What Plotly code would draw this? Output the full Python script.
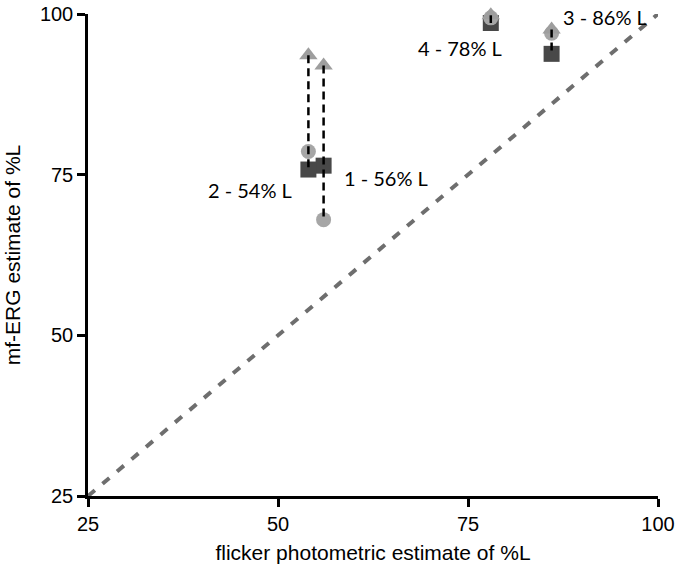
import plotly.graph_objects as go

subjects = ["1 - 56% L", "2 - 54% L", "3 - 86% L", "4 - 78% L"]
flicker = [56, 54, 86, 78]
tri_vals = [92.0, 93.6, 97.6, 99.8]
circ_vals = [68.0, 78.6, 97.0, 99.4]
sq_vals = [76.4, 75.8, 93.8, 98.6]
diag = [25, 100]
ticks = [25, 50, 75, 100]

fig = go.Figure()
fig.add_trace(go.Scatter(x=diag, y=diag, mode="lines",
                         line=dict(color="#6e6e6e", width=4, dash="9px,10px"),
                         hoverinfo="skip", cliponaxis=False))
fig.add_trace(go.Scatter(x=flicker, y=sq_vals, mode="markers",
                         marker=dict(symbol="square", size=16, color="#484848"), cliponaxis=False))
fig.add_trace(go.Scatter(x=flicker, y=circ_vals, mode="markers",
                         marker=dict(symbol="circle", size=15, color="#a6a6a6"), cliponaxis=False))
fig.add_trace(go.Scatter(x=flicker, y=tri_vals, mode="markers",
                         marker=dict(symbol="triangle-up", size=16, color="#9e9e9e"), cliponaxis=False))
for i in range(len(flicker)):
    ys = [tri_vals[i], circ_vals[i], sq_vals[i]]
    fig.add_trace(go.Scatter(x=[flicker[i], flicker[i]], y=[max(ys), min(ys)], mode="lines",
                             line=dict(color="black", width=2.5, dash="8px,5px"),
                             cliponaxis=False))

label_pos = {
    "1 - 56% L": (58.4, 74.5),
    "2 - 54% L": (40.5, 72.6),
    "3 - 86% L": (87.3, 99.5),
    "4 - 78% L": (68.1, 94.7),
}
for s in subjects:
    lx, ly = label_pos[s]
    fig.add_annotation(x=lx, y=ly, text=s, showarrow=False, xanchor="left", yanchor="middle",
                       font=dict(family="Lato, Noto Sans", size=20, color="black"))

axis_common = dict(range=[25, 100], tickvals=ticks, showgrid=False, zeroline=False,
                   showline=True, linecolor="black", linewidth=2.5, automargin=False,
                   ticks="outside", ticklen=8, tickwidth=2.5, tickcolor="black",
                   ticklabeloverflow="allow",
                   tickfont=dict(family="Liberation Sans, Arial", size=20, color="black"))
fig.update_xaxes(**axis_common,
                 title=dict(text="flicker photometric estimate of %L", standoff=12,
                            font=dict(family="Liberation Sans, Arial", size=21, color="black")))
fig.update_yaxes(**axis_common,
                 title=dict(text="mf-ERG estimate of %L", standoff=14,
                            font=dict(family="Liberation Sans, Arial", size=21, color="black")))
fig.update_layout(width=675, height=578, showlegend=False,
                  plot_bgcolor="white", paper_bgcolor="white",
                  margin=dict(l=88, r=17, t=14, b=82))
fig.write_html("out.html", config={"displayModeBar": False},
               post_script="document.body.style.margin='0';document.body.style.overflow='hidden';")
